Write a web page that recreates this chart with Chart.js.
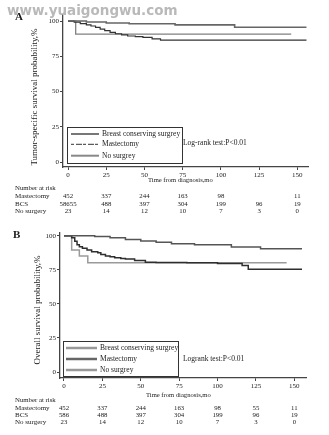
<!DOCTYPE html>
<html>
<head>
<meta charset="utf-8">
<script src="https://cdn.jsdelivr.net/npm/chart.js@4"></script>
<style>
html, body { margin: 0; padding: 0; background: #fff; }
#wrap { position: relative; width: 329px; height: 435px; overflow: hidden; }
canvas { position: absolute; left: 0; }
#cA { top: 0; }
#cB { top: 217px; }
</style>
</head>
<body>
<div id="wrap">
  <canvas id="cA" width="329" height="217"></canvas>
  <canvas id="cB" width="329" height="218"></canvas>
</div>
<script>
const timeTicks = [0, 25, 50, 75, 100, 125, 150];
const survTicks = [0, 25, 50, 75, 100];
const legendNames = ['Breast conserving surgrey', 'Mastectomy', 'No surgrey'];
const riskLabels = ['Mastectomy', 'BCS', 'No surgery'];

// panel A: tumor-specific survival
const a_bcsTime = [0, 12, 25, 40, 70, 109, 156];
const a_bcsSurv = [100, 99.3, 98.6, 98.1, 97.3, 95.6, 95.6];
const a_mastTime = [0, 4, 8, 12, 15, 18, 21, 24, 27.5, 31, 35, 39, 44, 49, 55, 60.5, 156];
const a_mastSurv = [100, 99.2, 98.2, 97.3, 96.5, 95.5, 94.3, 93.2, 92, 91, 90.2, 89.4, 88.9, 88.4, 87.4, 86.5, 86.5];
const a_noTime = [0, 5, 146];
const a_noSurv = [100, 90.7, 90.7];
const a_riskMast = ['452', '337', '244', '163', '98', '', '11'];
const a_riskBcs = ['58655', '488', '397', '304', '199', '96', '19'];
const a_riskNo = ['23', '14', '12', '10', '7', '3', '0'];

// panel B: overall survival
const b_bcsTime = [0, 20, 30, 40, 50, 60, 70, 85, 109, 128, 155];
const b_bcsSurv = [100, 99.5, 98.5, 97.3, 96.2, 95.2, 94.2, 93.3, 91.7, 90.4, 90.4];
const b_mastTime = [0, 5, 7, 8.5, 10, 12, 15, 18, 22, 24, 27, 30, 33, 37, 40, 46, 53, 60, 80, 100, 116, 120, 155];
const b_mastSurv = [100, 98.5, 96, 93.4, 92, 90.8, 89.5, 88.3, 87.5, 86.3, 85.1, 84.5, 83.8, 83.3, 83, 81.8, 80.6, 80.3, 80.1, 79.7, 78.2, 75.4, 75.4];
const b_noTime = [0, 5, 10, 15.5, 145];
const b_noSurv = [100, 89.6, 85.2, 80.2, 80.2];
const b_riskMast = ['452', '337', '244', '163', '98', '55', '11'];
const b_riskBcs = ['586', '488', '397', '304', '199', '96', '19'];
const b_riskNo = ['23', '14', '12', '10', '7', '3', '0'];

const serif = '"Liberation Serif", "DejaVu Serif", serif';

function pts(t, v) {
  return t.map((x, i) => ({ x: x, y: v[i] }));
}

function txt(ctx, s, x, y, size, align, weight) {
  ctx.font = (weight || '') + ' ' + size + 'px ' + serif;
  ctx.textAlign = align || 'left';
  ctx.textBaseline = 'middle';
  ctx.fillStyle = '#1a1a1a';
  ctx.fillText(s, x, y);
}

function extras(p) {
  return {
    id: 'extras',
    afterDraw(chart) {
      const ctx = chart.ctx;
      const xs = chart.scales.x;
      ctx.save();

      if (p.watermark) {
        ctx.font = 'bold 13.5px "DejaVu Sans", sans-serif';
        ctx.fillStyle = '#b9b9b9';
        ctx.textAlign = 'left';
        ctx.textBaseline = 'middle';
        ctx.fillText(p.watermark, 7, 11);
      }
      txt(ctx, p.letter, p.letterX, p.letterY, 11, 'left', 'bold');

      // y title
      ctx.save();
      ctx.translate(p.yTitleX, p.yTitleY);
      ctx.rotate(-Math.PI / 2);
      txt(ctx, p.yTitle, 0, 0, 9, 'center');
      ctx.restore();

      // x title
      txt(ctx, 'Time from diagnosis,mo', p.xTitleX, p.xTitleY, 6.6, 'left');

      // legend box
      const lb = p.legendBox;
      ctx.strokeStyle = '#333';
      ctx.lineWidth = 1;
      ctx.strokeRect(lb[0] + 0.5, lb[1] + 0.5, lb[2], lb[3]);
      legendNames.forEach((n, i) => {
        const st = p.legendStyles[i];
        const y = p.legendRows[i];
        ctx.strokeStyle = st.color;
        ctx.lineWidth = st.width;
        ctx.setLineDash(st.dash || []);
        ctx.beginPath();
        ctx.moveTo(p.sampleX[0], y);
        ctx.lineTo(p.sampleX[1], y);
        ctx.stroke();
        ctx.setLineDash([]);
        txt(ctx, n, p.sampleX[1] + 3, y, 7.5, 'left');
      });
      txt(ctx, p.testText, p.testX, p.testY, 7.5, 'left');

      // number at risk table
      txt(ctx, 'Number at risk', 15, p.riskY[0], 6.8, 'left');
      p.risk.forEach((row, r) => {
        const y = p.riskY[r + 1];
        txt(ctx, riskLabels[r], 15, y, 7, 'left');
        row.forEach((v, i) => {
          if (v !== '') txt(ctx, v, xs.getPixelForValue(timeTicks[i]), y, 6.8, 'center');
        });
      });
      ctx.restore();
    }
  };
}

function makePanel(id, p) {
  const axisColor = '#444';
  new Chart(document.getElementById(id).getContext('2d'), {
    type: 'line',
    data: {
      datasets: p.series.map(s => ({
        data: s.data,
        borderColor: s.color,
        borderWidth: s.width,
        pointRadius: 0,
        stepped: true,
        fill: false
      }))
    },
    options: {
      responsive: false,
      animation: false,
      layout: { padding: { left: 0, top: p.padTop, right: p.padRight, bottom: 0 } },
      plugins: { legend: { display: false }, tooltip: { enabled: false } },
      scales: {
        x: {
          type: 'linear',
          min: p.xMin,
          max: p.xMax,
          afterBuildTicks: s => { s.ticks = timeTicks.map(v => ({ value: v })); },
          afterFit: s => { s.height = p.xAxisH; },
          grid: { drawOnChartArea: false, tickLength: 3, color: axisColor },
          border: { color: axisColor, width: 1.3 },
          ticks: { font: { family: serif, size: 7 }, color: '#222', padding: 1, maxRotation: 0, autoSkip: false }
        },
        y: {
          type: 'linear',
          min: p.yMin,
          max: p.yMax,
          afterBuildTicks: s => { s.ticks = survTicks.map(v => ({ value: v })); },
          afterFit: s => { s.width = p.yAxisW; },
          grid: { drawOnChartArea: false, tickLength: 3, color: axisColor },
          border: { color: axisColor, width: 1.3 },
          ticks: { font: { family: serif, size: 7 }, color: '#222', padding: 1, autoSkip: false }
        }
      }
    },
    plugins: [extras(p)]
  });
}

makePanel('cA', {
  padTop: 15, padRight: 21, xAxisH: 50, yAxisW: 63,
  xMin: -3.3, xMax: 157, yMin: -3.5, yMax: 104.3,
  series: [
    { data: pts(a_bcsTime, a_bcsSurv), color: '#666', width: 1.6 },
    { data: pts(a_mastTime, a_mastSurv), color: '#333', width: 1.2 },
    { data: pts(a_noTime, a_noSurv), color: '#808080', width: 1.3 }
  ],
  watermark: 'www.yuaigongwu.com',
  letter: 'A', letterX: 15, letterY: 17,
  yTitle: 'Tumor-specific survival probability,%', yTitleX: 35, yTitleY: 97,
  xTitleX: 148, xTitleY: 180,
  legendBox: [67, 127, 115, 36],
  legendRows: [134, 144.3, 155.7],
  sampleX: [71, 99],
  legendStyles: [
    { color: '#777', width: 2 },
    { color: '#333', width: 1, dash: [3, 2, 6, 1] },
    { color: '#888', width: 2 }
  ],
  testText: 'Log-rank test:P<0.01', testX: 183, testY: 143,
  risk: [a_riskMast, a_riskBcs, a_riskNo],
  riskY: [188, 196, 204, 211]
});

makePanel('cB', {
  padTop: 16, padRight: 23, xAxisH: 57, yAxisW: 60,
  xMin: -2.6, xMax: 157.6, yMin: -4.4, yMax: 102,
  series: [
    { data: pts(b_bcsTime, b_bcsSurv), color: '#555', width: 1.5 },
    { data: pts(b_mastTime, b_mastSurv), color: '#2e2e2e', width: 1.5 },
    { data: pts(b_noTime, b_noSurv), color: '#9a9a9a', width: 1.5 }
  ],
  watermark: null,
  letter: 'B', letterX: 13, letterY: 18,
  yTitle: 'Overall survival probability,%', yTitleX: 38, yTitleY: 93,
  xTitleX: 146, xTitleY: 178,
  legendBox: [63, 124, 115, 35],
  legendRows: [131, 142, 153],
  sampleX: [66, 97],
  legendStyles: [
    { color: '#999', width: 2.5 },
    { color: '#666', width: 2.5 },
    { color: '#999', width: 2.5 }
  ],
  testText: 'Logrank test:P<0.01', testX: 183, testY: 142,
  risk: [b_riskMast, b_riskBcs, b_riskNo],
  riskY: [183, 191.5, 198.5, 205]
});
</script>
</body>
</html>
